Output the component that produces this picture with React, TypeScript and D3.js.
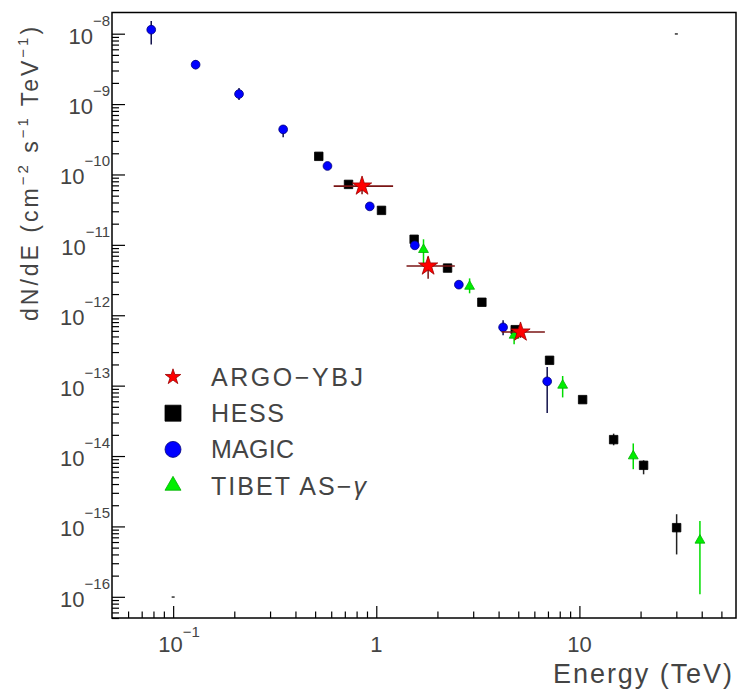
import React, { useEffect, useRef } from "react";
import * as d3 from "d3";

const W = 737;
const H = 692;

// HESS (black squares)
const hessE = [0.521, 0.73, 1.061, 1.536, 2.243, 3.31, 4.83, 7.13, 10.37, 14.74, 20.7, 30.1];
const hessF = [1.81e-10, 7.23e-11, 3.09e-11, 1.2e-11, 4.68e-12, 1.53e-12, 6.24e-13, 2.29e-13, 6.33e-14, 1.71e-14, 7.38e-15, 9.6e-16];
const hessErrUp = [0.15e-10, 0.5e-11, 0.2e-11, 0.8e-12, 0.3e-12, 0.1e-12, 0.4e-13, 0.15e-13, 0.4e-14, 0.37e-14, 1.31e-15, 0.53e-15];
const hessErrDn = [0.15e-10, 0.5e-11, 0.2e-11, 0.8e-12, 0.3e-12, 0.1e-12, 0.4e-13, 0.15e-13, 0.4e-14, 0.29e-14, 1.88e-15, 0.56e-15];

// MAGIC (blue circles)
const magicE = [0.078, 0.129, 0.211, 0.348, 0.575, 0.929, 1.548, 2.55, 4.21, 6.94];
const magicF = [1.14e-8, 3.63e-9, 1.39e-9, 4.37e-10, 1.32e-10, 3.52e-11, 9.84e-12, 2.72e-12, 6.73e-13, 1.15e-13];
const magicErrUp = [0.37e-8, 0.58e-9, 0.3e-9, 0.61e-10, 0.14e-10, 0.24e-11, 0.65e-12, 0.18e-12, 1.74e-13, 0.69e-13];
const magicErrDn = [0.435e-8, 0.5e-9, 0.25e-9, 1.0e-10, 0.12e-10, 0.24e-11, 0.65e-12, 0.18e-12, 1.54e-13, 0.74e-13];

// TIBET AS-gamma (green triangles)
const tibetE = [1.708, 2.88, 4.77, 8.27, 18.41, 39.2];
const tibetF = [8.55e-12, 2.57e-12, 5.18e-13, 1.01e-13, 1.0e-14, 6.35e-16];
const tibetErrUp = [3.45e-12, 0.77e-12, 0.8e-13, 0.36e-13, 0.51e-14, 5.55e-16];
const tibetErrDn = [3.1e-12, 0.52e-12, 1.32e-13, 0.33e-13, 0.35e-14, 5.26e-16];

// ARGO-YBJ (red stars)
const argoE = [0.851, 1.8, 5.13];
const argoElo = [0.617, 1.409, 4.14];
const argoEhi = [1.21, 2.436, 6.76];
const argoF = [6.84e-11, 5.0e-12, 5.77e-13];
const argoErrUp = [1.2e-11, 1.7e-12, 1.0e-13];
const argoErrDn = [1.6e-11, 1.7e-12, 1.0e-13];

// dummy points of the frame graph (tiny dashes)
const frameE = [0.1, 30];
const frameF = [1e-16, 1e-8];

const xMajor = [0.1, 1, 10];
const xTickBase = ["10", "1", "10"];
const xTickExp = ["\u22121", "", ""];
const xMinorMult = [2, 3, 4, 5, 6, 7, 8, 9];
const yExponents = [-16, -15, -14, -13, -12, -11, -10, -9, -8];

const legendLabels = ["ARGO\u2212YBJ", "HESS", "MAGIC", "TIBET AS\u2212"];

// y title pieces: [text, superscript?]
const yTitleParts: [string, boolean][] = [
  ["dN/dE (cm", false], ["\u22122", true], [" s", false], ["\u22121", true],
  [" TeV", false], ["\u22121", true], [")", false],
];

const FONT = "'Liberation Sans', Arial, sans-serif";
const TXT = "#444";

function App() {
  const ref = useRef<SVGSVGElement>(null);

  useEffect(() => {
    const svg = d3.select(ref.current);
    svg.selectAll("*").remove();

    const x = d3.scaleLog().domain([0.05, 59]).range([112, 736]);
    const y = d3.scaleLog().domain([5e-17, 2e-8]).range([618, 12.5]);

    const [x0, x1] = x.range();
    const [y0, y1] = y.range();

    // tick values
    const xMinor: number[] = [];
    [0.01, 0.1, 1, 10].forEach((d) =>
      xMinorMult.forEach((m) => {
        const v = d * m;
        if (v > 0.05 && v < 59) xMinor.push(v);
      })
    );
    const yMajor = yExponents.map((e) => Math.pow(10, e));
    const yMinor: number[] = [];
    [-17, ...yExponents].forEach((e) =>
      xMinorMult.forEach((m) => {
        const v = m * Math.pow(10, e);
        if (v >= 5e-17 && v < 2e-8) yMinor.push(v);
      })
    );

    const axes = svg.append("g").attr("class", "axes");
    const styleAxis = (g: any) => {
      g.select(".domain").remove();
      g.selectAll("line").attr("stroke", "#000").attr("stroke-width", 1.2);
      g.selectAll("text").remove();
    };

    axes.append("g").attr("transform", `translate(0,${y0})`)
      .call(d3.axisBottom(x).tickValues(xMajor).tickSize(-12).tickFormat(() => ""))
      .call(styleAxis);
    axes.append("g").attr("transform", `translate(0,${y0})`)
      .call(d3.axisBottom(x).tickValues(xMinor).tickSize(-6.5).tickFormat(() => ""))
      .call(styleAxis);
    axes.append("g").attr("transform", `translate(${x0},0)`)
      .call(d3.axisLeft(y).tickValues(yMajor).tickSize(-13).tickFormat(() => ""))
      .call(styleAxis);
    axes.append("g").attr("transform", `translate(${x0},0)`)
      .call(d3.axisLeft(y).tickValues(yMinor).tickSize(-7).tickFormat(() => ""))
      .call(styleAxis);

    // frame
    svg.append("rect")
      .attr("x", x0).attr("y", y1)
      .attr("width", x1 - x0).attr("height", y0 - y1)
      .attr("fill", "none").attr("stroke", "#000").attr("stroke-width", 1.5);

    // y tick labels
    const yl = svg.append("g").attr("font-family", FONT).attr("fill", TXT);
    yExponents.forEach((e) => {
      const t = yl.append("text")
        .attr("x", 110).attr("y", y(Math.pow(10, e)) + 10)
        .attr("text-anchor", "end");
      t.append("tspan").attr("font-size", 22).text("10");
      t.append("tspan").attr("font-size", 15).attr("dy", -18).text("\u2212" + String(-e));
    });

    // x tick labels
    xMajor.forEach((v, i) => {
      const t = yl.append("text")
        .attr("x", x(v) + (xTickExp[i] ? 6 : 0)).attr("y", 652)
        .attr("text-anchor", "middle");
      t.append("tspan").attr("font-size", 22).text(xTickBase[i]);
      if (xTickExp[i]) t.append("tspan").attr("font-size", 15).attr("dy", -15).text(xTickExp[i]);
    });

    // axis titles
    yl.append("text")
      .attr("x", 553).attr("y", 683)
      .attr("font-size", 27)
      .attr("textLength", 179).attr("lengthAdjust", "spacing")
      .text("Energy (TeV)");

    const yt = yl.append("text")
      .attr("transform", "translate(38,321) rotate(-90)")
      .attr("font-size", 23)
      .attr("letter-spacing", 3);
    let raised = false;
    yTitleParts.forEach(([s, sup]) => {
      const dy = sup ? -10 : raised ? 10 : 0;
      raised = sup;
      yt.append("tspan")
        .attr("font-size", sup ? 15 : 23)
        .attr("dy", dy)
        .text(s);
    });

    const plot = svg.append("g");

    const errV = (
      E: number[], F: number[], up: number[], dn: number[], color: string
    ) => {
      plot.append("g").selectAll("line").data(E).join("line")
        .attr("x1", (d) => x(d)).attr("x2", (d) => x(d))
        .attr("y1", (_d, i) => y(F[i] + up[i]))
        .attr("y2", (_d, i) => y(Math.max(F[i] - dn[i], 1e-17)))
        .attr("stroke", color).attr("stroke-width", 1.5);
    };

    const sym = (
      E: number[], F: number[], type: d3.SymbolType, size: number, fill: string, stroke: string
    ) => {
      plot.append("g").selectAll("path").data(E).join("path")
        .attr("transform", (d, i) => `translate(${x(d)},${y(F[i])})`)
        .attr("d", d3.symbol().type(type).size(size)() as string)
        .attr("fill", fill).attr("stroke", stroke).attr("stroke-width", 0.8);
    };

    // frame dummy marks
    plot.append("g").selectAll("rect").data(frameE).join("rect")
      .attr("x", (d) => x(d) - 1.5).attr("y", (_d, i) => y(frameF[i]) - 0.5)
      .attr("width", 3).attr("height", 1.5).attr("fill", "#333");

    errV(hessE, hessF, hessErrUp, hessErrDn, "#222");
    sym(hessE, hessF, d3.symbolSquare, 72, "#000", "#000");

    errV(magicE, magicF, magicErrUp, magicErrDn, "#10104a");
    sym(magicE, magicF, d3.symbolCircle, 60, "#0000ff", "#00007a");

    errV(tibetE, tibetF, tibetErrUp, tibetErrDn, "#00dd00");
    sym(tibetE, tibetF, d3.symbolTriangle, 42, "#00ee00", "#00b000");

    // ARGO horizontal + vertical error bars
    plot.append("g").selectAll("line").data(argoE).join("line")
      .attr("x1", (_d, i) => x(argoElo[i])).attr("x2", (_d, i) => x(argoEhi[i]))
      .attr("y1", (_d, i) => y(argoF[i])).attr("y2", (_d, i) => y(argoF[i]))
      .attr("stroke", "#7a1414").attr("stroke-width", 1.6);
    errV(argoE, argoF, argoErrUp, argoErrDn, "#7a1414");
    sym(argoE, argoF, d3.symbolStar, 115, "#ff0000", "#990000");

    // legend
    const lg = svg.append("g");
    const legendTypes = [d3.symbolStar, d3.symbolSquare, d3.symbolCircle, d3.symbolTriangle];
    const legendSizes = [75, 256, 201, 111];
    const legendFill = ["#ff0000", "#000", "#0000ff", "#00ee00"];
    const legendStroke = ["#990000", "#000", "#00007a", "#00b000"];
    const legendLen = [152, 73, 83, 155];
    legendLabels.forEach((lab, i) => {
      const cy = 377 + i * 36.2;
      lg.append("path")
        .attr("transform", `translate(173,${cy})`)
        .attr("d", d3.symbol().type(legendTypes[i]).size(legendSizes[i])() as string)
        .attr("fill", legendFill[i]).attr("stroke", legendStroke[i]).attr("stroke-width", 0.8);
      const t = lg.append("text")
        .attr("x", 211).attr("y", cy + 9)
        .attr("font-family", FONT).attr("font-size", 25).attr("fill", TXT)
        .attr("textLength", legendLen[i]).attr("lengthAdjust", "spacing")
        .text(lab);
      if (i === 3) t.append("tspan").attr("font-style", "italic").text("\u03b3");
    });
  }, []);

  return (
    <svg
      ref={ref}
      width={W}
      height={H}
      style={{ position: "absolute", left: 0, top: 0, background: "#fff" }}
    />
  );
}

export default App;
